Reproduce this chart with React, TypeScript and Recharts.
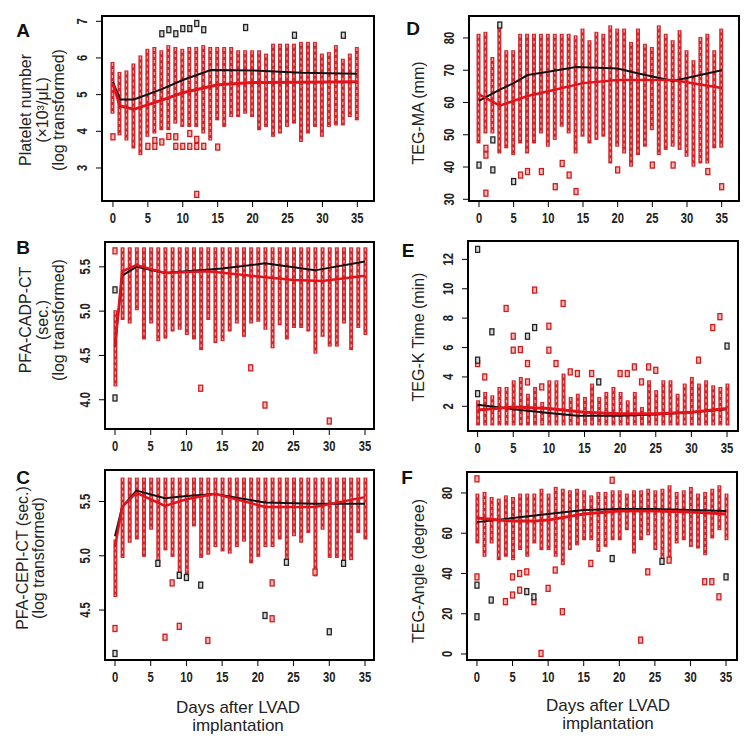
import React from "react";
import { ComposedChart, XAxis, YAxis, Bar, Line, Scatter, ReferenceArea } from "recharts";

type Pair = [number, number];

const days = [0,1,2,3,4,5,6,7,8,9,10,11,12,13,14,15,16,17,18,19,20,21,22,23,24,25,26,27,28,29,30,31,32,33,34,35];
const xTicks = [0,5,10,15,20,25,30,35];

// Panel A: Platelet number
const aTicks = [3,4,5,6,7];
const aHi = [5.89,5.62,5.66,5.85,6.07,6.25,6.3,6.21,6.35,6.3,6.25,6.3,6.3,6.35,6.3,6.3,6.3,6.3,6.21,6.21,6.21,6.21,6.12,6.39,6.39,6.39,6.39,6.44,6.44,6.44,6.12,6.16,6.35,5.98,6.12,6.3];
const aLo = [4.48,3.89,3.75,3.53,3.35,3.85,3.94,4.03,4.03,4.21,4.12,4.12,4.12,3.94,3.75,4.3,4.12,4.39,4.39,4.48,4.39,4.03,4.12,3.85,3.94,4.12,4.21,3.71,3.94,4.12,3.85,4.12,4.16,4.16,4.39,4.3];
const aRedOut: Pair[] = [[0,3.85],[5,3.59],[6,3.75],[6,3.59],[7,3.71],[8,3.86],[9,3.85],[9,3.59],[10,3.59],[11,3.94],[11,3.59],[12,3.59],[12,2.28],[13,3.59],[15,3.57],[12,3.78]];
const aBlackOut: Pair[] = [[7,6.66],[8,6.77],[9,6.66],[10,6.8],[11,6.8],[12,6.94],[13,6.77],[19,6.83],[26,6.62],[33,6.62]];
const aBlackMean: Pair[] = [[0,5.35],[1,4.87],[3,4.87],[7,5.15],[10,5.4],[14,5.67],[20,5.66],[27,5.6],[35,5.57]];
const aRedMean: Pair[] = [[0,5.3],[1,4.69],[3,4.6],[7,4.85],[10,5.05],[15,5.27],[20,5.33],[27,5.34],[35,5.35]];

// Panel B: PFA-CADP-CT
const bTicks = [4.0,4.5,5.0,5.5];
const bHi = [5.01,5.72,5.72,5.72,5.72,5.72,5.72,5.72,5.72,5.72,5.72,5.72,5.72,5.72,5.72,5.72,5.72,5.72,5.72,5.72,5.72,5.72,5.72,5.72,5.72,5.72,5.72,5.72,5.72,5.72,5.72,5.72,5.72,5.72,5.72,5.72];
const bLo = [4.15,4.9,4.86,5.01,4.68,4.86,4.66,4.69,4.77,4.79,4.73,4.68,4.56,4.9,4.64,4.66,4.77,4.86,4.71,4.86,4.88,4.79,4.58,4.84,4.68,4.81,4.81,4.77,4.52,4.71,4.6,4.6,4.86,4.56,4.81,4.73];
const bRedOut: Pair[] = [[0,5.68],[12,4.13],[19,4.36],[21,3.94],[30,3.76]];
const bBlackOut: Pair[] = [[0,5.24],[0,4.02]];
const bBlackMean: Pair[] = [[0,4.6],[1,5.4],[3,5.5],[7,5.43],[10,5.45],[15,5.48],[21,5.54],[28,5.46],[35,5.56]];
const bRedMean: Pair[] = [[0,4.6],[1,5.45],[3,5.52],[7,5.43],[13,5.45],[20,5.39],[25,5.35],[29,5.34],[35,5.4]];

// Panel C: PFA-CEPI-CT
const cTicks = [4.5,5.0,5.5];
const cHi = [5.15,5.72,5.72,5.72,5.72,5.72,5.72,5.72,5.72,5.72,5.72,5.72,5.72,5.72,5.72,5.72,5.72,5.72,5.72,5.72,5.72,5.72,5.72,5.72,5.72,5.72,5.72,5.72,5.72,5.72,5.72,5.72,5.72,5.72,5.72,5.72];
const cLo = [4.62,4.98,5.12,5.15,4.99,5.24,4.93,5.05,4.99,4.81,4.81,5.27,4.98,5.01,5.08,5.04,5.02,5.08,5.13,4.93,4.99,5.08,5.08,5.15,4.95,5.18,5.12,5.21,4.81,5.24,4.98,4.98,4.93,4.96,5.21,5.15];
const cRedOut: Pair[] = [[0,4.33],[7,4.25],[8,4.75],[9,4.35],[13,4.22],[22,4.75],[22,4.42],[28,4.85]];
const cBlackOut: Pair[] = [[0,4.1],[12,4.73],[21,4.45],[30,4.3],[9,4.82],[10,4.8],[24,4.94],[32,4.93],[6,4.93]];
const cBlackMean: Pair[] = [[0,5.18],[1,5.45],[3,5.6],[7,5.53],[10,5.55],[14,5.57],[21,5.49],[28,5.48],[35,5.48]];
const cRedMean: Pair[] = [[0,5.08],[1,5.45],[3,5.58],[7,5.46],[10,5.52],[14,5.57],[21,5.45],[28,5.45],[35,5.54]];

// Panel D: TEG-MA
const dTicks = [30,40,50,60,70,80];
const dHi = [81.3,81.9,74.1,83.9,76.2,76.2,81.3,81.3,81.3,81.3,81.3,81.3,81.3,81.3,80.8,82.9,79.3,81.9,81.3,83.9,82.9,82.9,78.8,82.9,78.2,77.2,83.9,81.3,79.3,82.4,76.2,73.1,80.3,81.3,76.2,82.9];
const dLo = [47.3,50.4,50.4,44.2,45.8,43.7,47.3,44.2,47.3,50.4,46.3,48.4,52.5,50.4,44.2,49.4,47.3,48.4,49.4,41.1,46.3,44.2,40.1,43.7,46.3,51.4,43.7,45.3,46.3,45.3,43.2,40.1,41.1,41.1,45.8,46.0];
const dRedOut: Pair[] = [[1,45.8],[1,43.7],[1,31.9],[6,37.5],[7,38.6],[9,38.6],[11,33.9],[12,41.1],[13,37.5],[14,32.4],[20,39.1],[25,40.6],[28,40.6],[33,38.6],[35,33.9]];
const dBlackOut: Pair[] = [[0,40.6],[2,48.4],[2,39.1],[5,35.5],[3,84.0]];
const dBlackMean: Pair[] = [[0,60.5],[3,64],[5,66],[7,68.5],[10,69.5],[14,71],[20,70.5],[23,69],[28,66.7],[35,70]];
const dRedMean: Pair[] = [[0,62.5],[3,59],[7,62],[10,63.5],[15,66],[20,67],[28,67],[35,64.5]];

// Panel E: TEG-K Time
const eTicks = [2,4,6,8,10,12];
const eHi = [2.41,2.98,2.75,3.32,3.32,3.77,4.0,2.86,3.32,2.3,3.77,3.77,4.23,2.64,2.86,2.64,3.55,2.64,2.98,3.32,2.98,2.41,2.98,1.95,3.77,3.1,3.77,3.77,2.86,3.55,4.0,3.55,3.77,3.43,3.32,3.55];
const eLo = [0.7,0.7,0.7,0.7,0.7,0.7,0.7,0.7,0.7,0.7,0.7,0.7,0.7,0.7,0.7,0.7,0.7,0.7,0.7,0.7,0.7,0.7,0.7,0.7,0.7,0.7,0.7,0.7,0.7,0.7,0.7,0.7,0.7,0.7,0.7,0.7];
const eRedOut: Pair[] = [[0,4.91],[1,4.0],[4,8.66],[5,5.82],[5,6.77],[6,5.86],[7,3.66],[7,4.91],[8,9.91],[9,3.32],[10,5.82],[10,7.45],[11,4.91],[12,9.0],[13,4.34],[14,4.23],[16,4.23],[20,4.23],[21,4.23],[22,4.68],[23,3.66],[24,4.68],[25,4.45],[31,5.14],[33,7.36],[34,8.1]];
const eBlackOut: Pair[] = [[0,2.86],[0,5.14],[0,12.68],[2,7.07],[7,6.77],[8,7.36],[17,3.66],[35,6.1]];
const eBlackMean: Pair[] = [[0,2.1],[5,1.8],[10,1.55],[14,1.35],[20,1.35],[25,1.45],[30,1.6],[35,1.8]];
const eRedMean: Pair[] = [[0,1.75],[5,1.95],[10,1.85],[15,1.6],[20,1.5],[25,1.5],[30,1.6],[35,1.85]];

// Panel F: TEG-Angle
const fTicks = [0,20,40,60,80];
const fHi = [79.7,80.5,78,77.2,78.8,78,79.7,79.7,79.7,82.1,79.7,83,82.1,81.3,82.1,81.3,78.8,80.5,80.5,81.3,81.3,79.7,81.3,81.3,82.1,81.3,82.1,83.8,80.5,81.3,83,79.7,80.5,82.1,83.8,79.7];
const fLo = [54.9,48.3,54.9,46.6,48.3,46.6,51.6,48.3,54.9,51.6,51.6,48.3,44.1,51.6,54,56.5,56.5,50.7,53.2,56.5,56.5,61.5,49.9,56.5,59,51.6,45.8,46.6,54.9,56.5,53.2,52.4,49.1,57.4,61.5,56.5];
const fRedOut: Pair[] = [[0,87],[0,38.3],[4,26],[5,38.3],[5,29.3],[6,40],[6,31.7],[7,40.8],[8,26],[9,0.3],[10,32.6],[11,41.7],[12,21],[16,45],[19,86.3],[23,6.9],[24,40.8],[32,35.9],[33,35.9],[34,28.4],[27,46.6]];
const fBlackOut: Pair[] = [[0,34.2],[0,18.5],[2,26.8],[7,31],[8,28.4],[19,47.4],[35,38.3],[26,46]];
const fBlackMean: Pair[] = [[0,65.5],[5,67.5],[10,69.5],[15,71.5],[20,72],[25,72],[30,71.5],[35,71]];
const fRedMean: Pair[] = [[0,67.5],[5,66],[8,66],[10,66.5],[15,69.5],[20,71],[25,71],[30,70.5],[35,69.5]];

const TICK_FONT = "'Liberation Sans', Arial, sans-serif";
const TEXT_FONT = "'Liberation Sans', Arial, sans-serif";
const RED = "#e0141a";

const toRows = (pairs: Pair[]) => pairs.map(([day, v]) => ({ day, v }));

const XTick = (props: any) => {
  const { x, y, payload } = props;
  return (
    <g transform={`translate(${x} ${y}) scale(0.8 1)`}>
      <text x={0} y={0} dy="0.36em" textAnchor="middle" fontFamily={TICK_FONT} fontWeight="bold" fontSize={14} fill="#222">
        {payload.value}
      </text>
    </g>
  );
};

const makeYTick = (fixed: number) => (props: any) => {
  const { x, y, payload } = props;
  return (
    <g transform={`translate(${x} ${y}) rotate(-90) scale(0.8 1)`}>
      <text x={0} y={0} dy="0.36em" textAnchor="middle" fontFamily={TICK_FONT} fontWeight="bold" fontSize={14} fill="#222">
        {Number(payload.value).toFixed(fixed)}
      </text>
    </g>
  );
};

const boxShape = (fill: string, stroke: string) => (props: any) => {
  const { cx, cy } = props;
  if (cx == null || cy == null) return <g />;
  return <rect x={cx - 2} y={cy - 3} width={4} height={6} fill={fill} stroke={stroke} strokeWidth={1.3} />;
};

const ColumnShape = (props: any) => {
  const { x, y, width, height } = props;
  if (x == null || y == null || !width || !height) return <g />;
  const cx = x + width / 2;
  return (
    <g>
      <rect x={x} y={y} width={width} height={height} fill="#d2262b" />
      <line x1={cx} x2={cx} y1={y + 1} y2={y + height - 1} stroke="#eea4a4" strokeWidth={1.2} strokeDasharray="3 3" />
    </g>
  );
};

type PanelProps = {
  left: number; top: number; boxW: number; boxH: number;
  xDomain: [number, number]; yDomain: [number, number]; yTicks: number[]; yFixed: number;
  hi: number[]; lo: number[]; redOut: Pair[]; blackOut: Pair[]; blackMean: Pair[]; redMean: Pair[];
  redWidth: number;
};

const YW = 40, MT = 6, MR = 6, XH = 30;

function Panel(p: PanelProps) {
  const rows = days.map((d, i) => ({ day: d, range: [p.lo[i], p.hi[i]] }));
  return (
    <div style={{ position: "absolute", left: p.left - YW, top: p.top - MT }}>
      <ComposedChart width={YW + p.boxW + MR} height={MT + p.boxH + XH} data={rows} margin={{ top: MT, right: MR, bottom: 0, left: 0 }}>
        <XAxis type="number" dataKey="day" domain={p.xDomain} ticks={xTicks} allowDataOverflow axisLine={false}
          tickLine={{ stroke: "#000" }} tickSize={6} tickMargin={11} height={XH} tick={<XTick />} interval={0} />
        <YAxis type="number" domain={p.yDomain} ticks={p.yTicks} allowDataOverflow axisLine={false}
          tickLine={{ stroke: "#000" }} tickSize={6} tickMargin={14} width={YW} tick={makeYTick(p.yFixed)} interval={0} />
        <Bar dataKey="range" barSize={4} shape={<ColumnShape />} isAnimationActive={false} />
        <Scatter data={toRows(p.redOut)} dataKey="v" shape={boxShape("#f2b8b8", "#d01c1c")} isAnimationActive={false} />
        <Scatter data={toRows(p.blackOut)} dataKey="v" shape={boxShape("#d8d8d8", "#222")} isAnimationActive={false} />
        <Line data={toRows(p.blackMean)} dataKey="v" type="linear" stroke="#111" strokeWidth={2} dot={false} isAnimationActive={false} />
        <Line data={toRows(p.redMean)} dataKey="v" type="linear" stroke={RED} strokeWidth={p.redWidth} dot={false} isAnimationActive={false} />
        <ReferenceArea x1={p.xDomain[0]} x2={p.xDomain[1]} y1={p.yDomain[0]} y2={p.yDomain[1]} ifOverflow="visible"
          fill="none" fillOpacity={0} stroke="#000" strokeWidth={2} />
      </ComposedChart>
    </div>
  );
}

const titleProps = { fontFamily: TEXT_FONT, fontSize: 16, fill: "#222", textAnchor: "middle" as const };
const letterProps = { fontFamily: TEXT_FONT, fontSize: 19, fontWeight: "bold" as const, fill: "#111", textAnchor: "middle" as const };

const VText = ({ x, y, children }: { x: number; y: number; children: React.ReactNode }) => (
  <text x={x} y={y} dy="0.35em" transform={`rotate(-90 ${x} ${y})`} {...titleProps}>{children}</text>
);

export default function App() {
  return (
    <div style={{ position: "absolute", left: 0, top: 0, width: 751, height: 742, background: "#fff", overflow: "hidden" }}>
      <Panel left={102} top={16} boxW={272} boxH={185} xDomain={[-1.57, 37.39]} yDomain={[2.10, 7.144]} yTicks={aTicks} yFixed={0}
        hi={aHi} lo={aLo} redOut={aRedOut} blackOut={aBlackOut} blackMean={aBlackMean} redMean={aRedMean} redWidth={3} />
      <Panel left={105} top={242} boxW={269} boxH={187} xDomain={[-1.4, 36.26]} yDomain={[3.67, 5.78]} yTicks={bTicks} yFixed={1}
        hi={bHi} lo={bLo} redOut={bRedOut} blackOut={bBlackOut} blackMean={bBlackMean} redMean={bRedMean} redWidth={2.5} />
      <Panel left={105} top={470} boxW={269} boxH={190} xDomain={[-1.4, 36.26]} yDomain={[4.04, 5.79]} yTicks={cTicks} yFixed={1}
        hi={cHi} lo={cLo} redOut={cRedOut} blackOut={cBlackOut} blackMean={cBlackMean} redMean={cRedMean} redWidth={2.5} />
      <Panel left={469} top={16} boxW={270} boxH={185} xDomain={[-1.44, 37.5]} yDomain={[29.47, 86.8]} yTicks={dTicks} yFixed={0}
        hi={dHi} lo={dLo} redOut={dRedOut} blackOut={dBlackOut} blackMean={dBlackMean} redMean={dRedMean} redWidth={2.5} />
      <Panel left={468} top={241} boxW={270} boxH={190} xDomain={[-1.35, 36.54]} yDomain={[0.32, 13.25]} yTicks={eTicks} yFixed={0}
        hi={eHi} lo={eLo} redOut={eRedOut} blackOut={eBlackOut} blackMean={eBlackMean} redMean={eRedMean} redWidth={3} />
      <Panel left={467} top={472} boxW={270} boxH={188} xDomain={[-1.4, 36.54]} yDomain={[-2.98, 90.4]} yTicks={fTicks} yFixed={0}
        hi={fHi} lo={fLo} redOut={fRedOut} blackOut={fBlackOut} blackMean={fBlackMean} redMean={fRedMean} redWidth={3} />
      <svg width={751} height={742} style={{ position: "absolute", left: 0, top: 0, pointerEvents: "none" }}>
        <text x={23} y={30} dy="0.35em" {...letterProps}>A</text>
        <text x={23} y={247} dy="0.35em" {...letterProps}>B</text>
        <text x={23} y={477} dy="0.35em" {...letterProps}>C</text>
        <text x={413} y={28} dy="0.35em" {...letterProps}>D</text>
        <text x={408} y={250} dy="0.35em" {...letterProps}>E</text>
        <text x={407} y={477} dy="0.35em" {...letterProps}>F</text>

        <VText x={25} y={110}>Platelet number</VText>
        <VText x={42} y={110}>(×10³/μL)</VText>
        <VText x={58} y={110}>(log transformed)</VText>

        <VText x={25} y={320}>PFA-CADP-CT</VText>
        <VText x={42} y={320}>(sec.)</VText>
        <VText x={58} y={320}>(log transformed)</VText>

        <VText x={22} y={558}>PFA-CEPI-CT (sec.)</VText>
        <VText x={38} y={558}>(log transformed)</VText>

        <VText x={418} y={113}>TEG-MA (mm)</VText>
        <VText x={418} y={337}>TEG-K Time  (min)</VText>
        <VText x={418} y={571}>TEG-Angle  (degree)</VText>

        <text x={238} y={707} dy="0.35em" {...titleProps} fontSize={17}>Days after LVAD</text>
        <text x={238} y={725} dy="0.35em" {...titleProps} fontSize={17}>implantation</text>
        <text x={608} y={705} dy="0.35em" {...titleProps} fontSize={17}>Days after LVAD</text>
        <text x={608} y={723} dy="0.35em" {...titleProps} fontSize={17}>implantation</text>
      </svg>
    </div>
  );
}
